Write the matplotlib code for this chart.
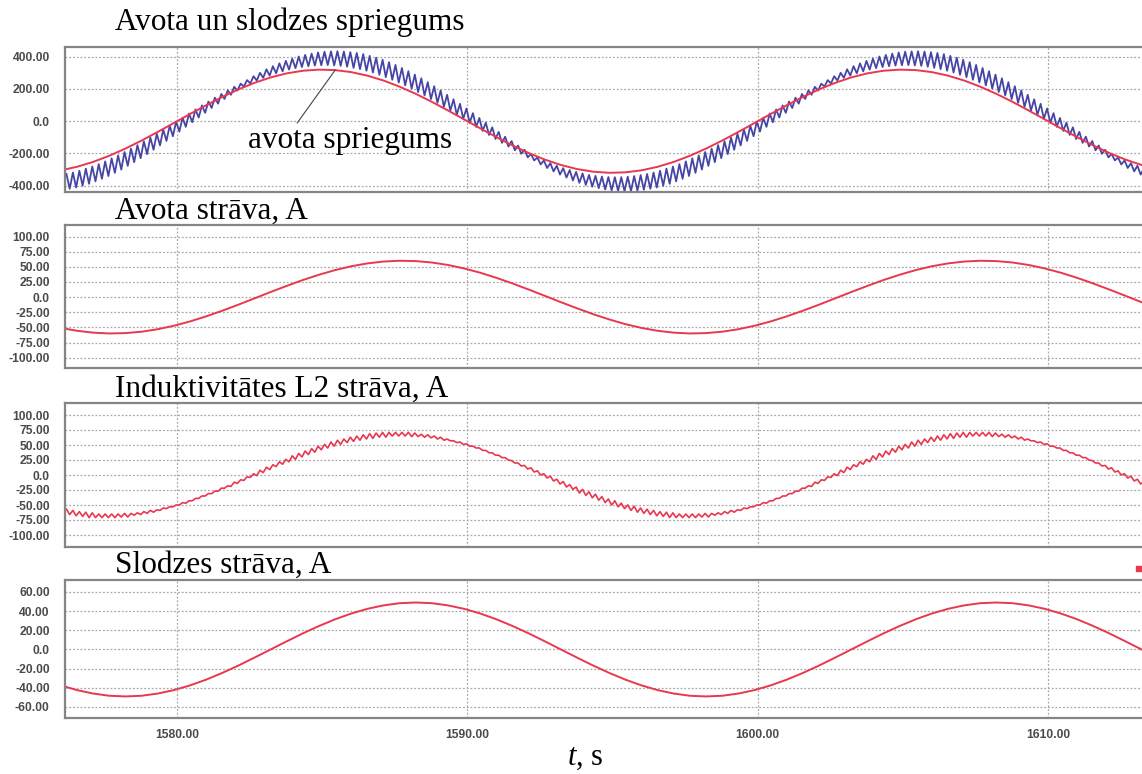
import matplotlib.pyplot as plt
import numpy as np
from matplotlib.patches import Rectangle

plt.rcParams['font.family'] = ['Liberation Sans', 'DejaVu Sans']
plt.rcParams['mathtext.fontset'] = 'custom'
plt.rcParams['mathtext.it'] = 'Liberation Serif:italic'
plt.rcParams['mathtext.rm'] = 'Liberation Serif'

# sampling of the simulator traces (t axis)
T_SMOOTH0 = 1576.0
DT_SMOOTH = 10 / 18
T_RIPPLE0 = 1576.19
DT_RIPPLE = 1 / 9

# avota spriegums (red) and slodzes spriegums (blue, with PWM ripple)
source_voltage = [-304.4, -282.5, -252.2, -214.1, -169.6, -119.9, -66.5, -11.2, 44.5, 98.9, 150.2, 197.0,
                  237.8, 271.4, 296.7, 313.0, 319.8, 316.9, 304.4, 282.5, 252.2, 214.1, 169.6, 119.9,
                  66.5, 11.2, -44.5, -98.9, -150.2, -197.0, -237.8, -271.4, -296.7, -313.0, -319.8, -316.9,
                  -304.4, -282.5, -252.2, -214.1, -169.6, -119.9, -66.5, -11.2, 44.5, 98.9, 150.2, 197.0,
                  237.8, 271.4, 296.7, 313.0, 319.8, 316.9, 304.4, 282.5, 252.2, 214.1, 169.6, 119.9,
                  66.5, 11.2, -44.5, -98.9, -150.2, -197.0, -237.8, -271.4, -296.7]

load_voltage = [-327, -419, -318, -411, -307, -400, -294, -388, -281, -373,
                -266, -357, -249, -340, -230, -320, -212, -300, -191, -277,
                -170, -254, -148, -229, -125, -204, -101, -177, -78, -150,
                -52, -122, -28, -93, -3, -64, 22, -35, 48, -6,
                73, 23, 98, 52, 122, 82, 146, 109, 169, 138,
                191, 164, 213, 190, 233, 215, 255, 234, 279, 252,
                300, 269, 322, 283, 341, 297, 359, 309, 374, 320,
                388, 329, 401, 336, 411, 341, 419, 345, 426, 347,
                431, 348, 433, 346, 434, 343, 432, 338, 428, 331,
                423, 323, 416, 313, 405, 302, 394, 288, 381, 273,
                366, 257, 349, 240, 330, 222, 310, 202, 289, 181,
                266, 160, 242, 137, 217, 114, 191, 89, 164, 66,
                136, 40, 108, 15, 79, -10, 50, -35, 20, -60,
                -9, -85, -38, -110, -66, -134, -96, -157, -123, -180,
                -151, -202, -177, -224, -203, -243, -225, -268, -243, -290,
                -260, -311, -276, -331, -291, -349, -303, -367, -314, -382,
                -324, -395, -333, -406, -339, -415, -343, -423, -346, -429,
                -347, -432, -347, -434, -344, -433, -340, -430, -334, -425,
                -327, -419, -318, -411, -307, -400, -294, -388, -281, -373,
                -266, -357, -249, -340, -230, -320, -212, -300, -191, -277,
                -170, -254, -148, -229, -125, -204, -101, -177, -78, -150,
                -52, -122, -28, -93, -3, -64, 22, -35, 48, -6,
                73, 23, 98, 52, 122, 82, 146, 109, 169, 138,
                191, 164, 213, 190, 233, 215, 255, 234, 279, 252,
                300, 269, 322, 283, 341, 297, 359, 309, 374, 320,
                388, 329, 401, 336, 411, 341, 419, 345, 426, 347,
                431, 348, 433, 346, 434, 343, 432, 338, 428, 331,
                423, 323, 416, 313, 405, 302, 394, 288, 381, 273,
                366, 257, 349, 240, 330, 222, 310, 202, 289, 181,
                266, 160, 242, 137, 217, 114, 191, 89, 164, 66,
                136, 40, 108, 15, 79, -10, 50, -35, 20, -60,
                -9, -85, -38, -110, -66, -134, -96, -157, -123, -180,
                -151, -202, -177, -224, -203, -243, -225, -268, -243, -290,
                -260, -311, -276, -331, -291, -349]

source_current = [-50.9, -55.6, -58.7, -60.0, -59.4,
                  -57.1, -53.0, -47.3, -40.2, -31.8, -22.5, -12.5, -2.1, 8.4, 18.5, 28.2, 36.9,
                  44.6, 50.9, 55.6, 58.7, 60.0, 59.4, 57.1, 53.0, 47.3, 40.2, 31.8, 22.5,
                  12.5, 2.1, -8.4, -18.5, -28.2, -36.9, -44.6, -50.9, -55.6, -58.7, -60.0, -59.4,
                  -57.1, -53.0, -47.3, -40.2, -31.8, -22.5, -12.5, -2.1, 8.4, 18.5, 28.2, 36.9,
                  44.6, 50.9, 55.6, 58.7, 60.0, 59.4, 57.1, 53.0, 47.3, 40.2, 31.8, 22.5,
                  12.5, 2.1, -8.4, -18.5]

l2_current = [-57, -66, -59, -68, -61, -69, -62, -71, -63, -71,
              -65, -71, -65, -71, -65, -71, -65, -70, -64, -70,
              -64, -67, -63, -66, -61, -64, -59, -62, -58, -59,
              -55, -56, -53, -53, -50, -50, -46, -47, -43, -43,
              -39, -39, -35, -35, -31, -31, -27, -27, -22, -22,
              -18, -19, -12, -14, -8, -9, -3, -4, 2, -1,
              8, 4, 13, 9, 17, 14, 22, 18, 26, 22,
              32, 26, 36, 30, 40, 34, 44, 38, 48, 42,
              51, 45, 55, 48, 58, 51, 60, 54, 63, 56,
              65, 58, 67, 60, 69, 61, 70, 63, 71, 63,
              71, 65, 71, 65, 71, 65, 71, 64, 70, 64,
              68, 63, 67, 62, 65, 60, 63, 58, 60, 57,
              57, 54, 55, 51, 52, 48, 48, 45, 45, 41,
              41, 37, 37, 33, 33, 29, 29, 25, 24, 20,
              20, 15, 16, 10, 12, 5, 7, 0, 2, -5,
              -2, -10, -7, -15, -11, -20, -16, -24, -20, -30,
              -24, -34, -28, -38, -32, -42, -36, -46, -40, -50,
              -43, -53, -47, -56, -50, -59, -52, -62, -55, -64,
              -57, -66, -59, -68, -61, -69, -62, -71, -63, -71,
              -65, -71, -65, -71, -65, -71, -65, -70, -64, -70,
              -64, -67, -63, -66, -61, -64, -59, -62, -58, -59,
              -55, -56, -53, -53, -50, -50, -46, -47, -43, -43,
              -39, -39, -35, -35, -31, -31, -27, -27, -22, -22,
              -18, -19, -12, -14, -8, -9, -3, -4, 2, -1,
              8, 4, 13, 9, 17, 14, 22, 18, 26, 22,
              32, 26, 36, 30, 40, 34, 44, 38, 48, 42,
              51, 45, 55, 48, 58, 51, 60, 54, 63, 56,
              65, 58, 67, 60, 69, 61, 70, 63, 71, 63,
              71, 65, 71, 65, 71, 65, 71, 64, 70, 64,
              68, 63, 67, 62, 65, 60, 63, 58, 60, 57,
              57, 54, 55, 51, 52, 48, 48, 45, 45, 41,
              41, 37, 37, 33, 33, 29, 29, 25, 24, 20,
              20, 15, 16, 10, 12, 5, 7, 0, 2, -5,
              -2, -10, -7, -15, -11, -20]

load_current = [-37.5, -42.4, -46.0, -48.3, -49.0, -48.3, -46.0, -42.4, -37.5, -31.5, -24.5, -16.8, -8.5,
                0.0, 8.5, 16.8, 24.5, 31.5, 37.5, 42.4, 46.0, 48.3, 49.0, 48.3, 46.0, 42.4, 37.5, 31.5,
                24.5, 16.8, 8.5, 0.0, -8.5, -16.8, -24.5, -31.5, -37.5, -42.4, -46.0, -48.3, -49.0, -48.3,
                -46.0, -42.4, -37.5, -31.5, -24.5, -16.8, -8.5, 0.0, 8.5, 16.8, 24.5, 31.5, 37.5, 42.4,
                46.0, 48.3, 49.0, 48.3, 46.0, 42.4, 37.5, 31.5, 24.5, 16.8, 8.5, 0.0, -8.5]

titles = ['Avota un slodzes spriegums', 'Avota strāva, A', 'Induktivitātes L2 strāva, A', 'Slodzes strāva, A']
yticks = [[400, 200, 0, -200, -400],
          [100, 75, 50, 25, 0, -25, -50, -75, -100],
          [100, 75, 50, 25, 0, -25, -50, -75, -100],
          [60, 40, 20, 0, -20, -40, -60]]
ytick_labels = [['400.00', '200.00', '0.0', '-200.00', '-400.00'],
                ['100.00', '75.00', '50.00', '25.00', '0.0', '-25.00', '-50.00', '-75.00', '-100.00'],
                ['100.00', '75.00', '50.00', '25.00', '0.0', '-25.00', '-50.00', '-75.00', '-100.00'],
                ['60.00', '40.00', '20.00', '0.0', '-20.00', '-40.00', '-60.00']]
xticks = [1580, 1590, 1600, 1610]
xtick_labels = ['1580.00', '1590.00', '1600.00', '1610.00']

W, H = 1142, 774
RED = '#e8384f'
BLUE = '#4545a5'

fig = plt.figure(figsize=(W / 100, H / 100), dpi=100)

# panel boxes in pixels: (top, bottom), and y ranges
boxes = [(46.7, 191.7), (225, 368.3), (402.7, 546.7), (579.7, 718)]
ylims = [(-437, 462), (-117.5, 119), (-119.5, 120.5), (-71.5, 72.8)]
title_base = [30, 219, 397, 573]
left_px, right_px = 65, 1145

t_smooth = T_SMOOTH0 + DT_SMOOTH * np.arange(len(source_voltage))
t_ripple = T_RIPPLE0 + DT_RIPPLE * np.arange(len(load_voltage))

axes = []
for i, (top, bot) in enumerate(boxes):
    ax = fig.add_axes([left_px / W, 1 - bot / H, (right_px - left_px) / W, (bot - top) / H])
    ax.set_xlim(1576.14, 1613.34)
    ax.set_ylim(*ylims[i])
    ax.set_yticks(yticks[i])
    ax.set_yticklabels(ytick_labels[i])
    ax.set_xticks(xticks)
    if i == 3:
        ax.set_xticklabels(xtick_labels)
    else:
        ax.set_xticklabels([])
    ax.tick_params(length=0, labelsize=8.7, labelcolor='#4a4a4a')
    for lab in ax.get_yticklabels() + ax.get_xticklabels():
        lab.set_fontweight('bold')
    ax.tick_params(axis='y', pad=11)
    ax.tick_params(axis='x', pad=8)
    ax.grid(True, color='#a8a8a8', lw=0.9, linestyle=(0, (1.5, 1.5)))
    for sp in ax.spines.values():
        sp.set_color('#858585')
        sp.set_linewidth(1.6)
    fig.text(115 / W, 1 - title_base[i] / H, titles[i], family='Liberation Serif', fontsize=22.5,
             ha='left', va='baseline')
    axes.append(ax)

axes[0].plot(t_ripple, load_voltage, color=BLUE, lw=1.3)
axes[0].plot(t_smooth, source_voltage, color=RED, lw=1.4)
axes[0].annotate('avota spriegums', xy=(1585.45, 318), xytext=(1582.45, -165),
                 family='Liberation Serif', fontsize=22.5, ha='left', va='baseline',
                 arrowprops=dict(arrowstyle='-', color='#444444', lw=0.8, relpos=(0.23, 1.0),
                                 shrinkA=0, shrinkB=0))
axes[1].plot(t_smooth, source_current, color=RED, lw=1.4)
axes[2].plot(t_ripple, l2_current, color=RED, lw=1.2)
axes[3].plot(t_smooth, load_current, color=RED, lw=1.4)

# leftover legend marker at the right edge
fig.patches.append(Rectangle((1136 / W, 1 - 571 / H), 6 / W, 5 / H, transform=fig.transFigure,
                             color=RED, figure=fig))

fig.text(585 / W, 1 - 757 / H, r'$t$, s', family='Liberation Serif', fontsize=22,
         ha='center', va='center')

fig.savefig('out.png', dpi=100)
